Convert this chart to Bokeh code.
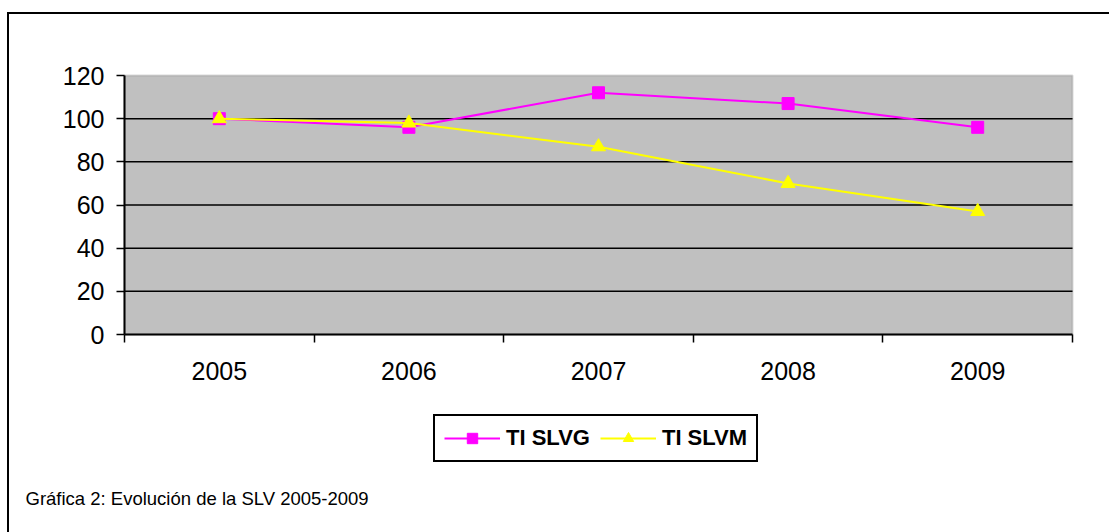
from bokeh.plotting import figure
from bokeh.models import Range1d, FixedTicker, Legend, LegendItem, Label, BoxAnnotation, InlineStyleSheet
from bokeh.embed import file_html
from bokeh.resources import INLINE

# ---- data ----
years = ["2005", "2006", "2007", "2008", "2009"]
ti_slvg = [100, 96, 112, 107, 96]
ti_slvm = [100, 98, 87, 70, 57]
y_ticks = [0, 20, 40, 60, 80, 100, 120]
series_names = ["TI SLVG", "TI SLVM"]
caption = "Gráfica 2: Evolución de la SLV 2005-2009"

FONT = "Liberation Sans"
W, H = 1109, 532
# plot-area placement on the canvas (pixels)
PL, PR, PT, PB = 124, 1072, 75, 334

pos = list(range(1, len(years) + 1))
bounds = [i + 0.5 for i in range(len(years) + 1)]
x_lo, x_hi = bounds[0], bounds[-1]
y_lo, y_hi = y_ticks[0], y_ticks[-1]

# ranges extended so the data area lands on the plot area, frame = whole canvas
kx = (PR - PL) / (x_hi - x_lo)
ky = (PB - PT) / (y_hi - y_lo)
x_range = Range1d(x_lo - PL / kx, x_hi + (W - PR) / kx)
y_range = Range1d(y_lo - (H - PB) / ky, y_hi + PT / ky)

frame_css = InlineStyleSheet(css="""
:host { position: relative; }
:host::after {
  content: "";
  position: absolute;
  left: 7px; top: 12px; right: 0px; bottom: 0px;
  border-left: 2px solid #000;
  border-top: 2px solid #000;
  pointer-events: none;
}
""")

p = figure(width=W, height=H, output_backend="svg", toolbar_location=None,
           x_range=x_range, y_range=y_range, min_border=0,
           background_fill_color="white", border_fill_color="white",
           stylesheets=[frame_css])
p.outline_line_color = None
p.xgrid.visible = False
p.ygrid.visible = False

# grey plot area with grey top/right border
p.add_layout(BoxAnnotation(left=x_lo, right=x_hi, bottom=y_lo, top=y_hi, level="image",
                           fill_color="#C0C0C0", fill_alpha=1,
                           line_color="#808080", line_width=2))

# horizontal gridlines
grid_vals = [t for t in y_ticks if y_lo < t < y_hi]
p.segment(x0=[x_lo] * len(grid_vals), x1=[x_hi] * len(grid_vals), y0=grid_vals, y1=grid_vals,
          line_color="black", line_width=1.5)

# x axis: labels at category centres, tick marks at category boundaries
xa = p.xaxis[0]
xa.fixed_location = y_lo
xa.bounds = (x_lo, x_hi)
xa.ticker = FixedTicker(ticks=pos, minor_ticks=bounds)
xa.major_label_overrides = {x: y for x, y in zip(pos, years)}
xa.axis_line_color = "black"
xa.axis_line_width = 2
xa.major_tick_out = 0
xa.major_tick_in = 0
xa.minor_tick_out = 8
xa.minor_tick_in = 0
xa.minor_tick_line_color = "black"
xa.minor_tick_line_width = 1.5
xa.major_label_text_font = FONT
xa.major_label_text_font_size = "25px"
xa.major_label_text_color = "black"
xa.major_label_standoff = 19

ya = p.yaxis[0]
ya.fixed_location = x_lo
ya.bounds = (y_lo, y_hi)
ya.ticker = FixedTicker(ticks=y_ticks)
ya.axis_line_color = "black"
ya.axis_line_width = 2
ya.major_tick_out = 8
ya.major_tick_in = 0
ya.major_tick_line_color = "black"
ya.major_tick_line_width = 1.5
ya.minor_tick_out = 0
ya.minor_tick_in = 0
ya.major_label_text_font = FONT
ya.major_label_text_font_size = "25px"
ya.major_label_text_color = "black"
ya.major_label_standoff = 12

r1 = p.line(pos, ti_slvg, line_color="#FF00FF", line_width=2)
r1m = p.scatter(pos, ti_slvg, marker="square", size=12, fill_color="#FF00FF", line_color="#FF00FF")
r2 = p.line(pos, ti_slvm, line_color="#FFFF00", line_width=2)
r2m = p.scatter(pos, ti_slvm, marker="triangle", size=14, fill_color="#FFFF00", line_color="#FFFF00")

legend = Legend(items=[LegendItem(label=series_names[0], renderers=[r1, r1m]),
                       LegendItem(label=series_names[1], renderers=[r2, r2m])],
                orientation="horizontal", location=(433, H - 462),
                glyph_width=56, glyph_height=26, label_height=26,
                label_standoff=6, spacing=10, padding=9, margin=0,
                border_line_color="black", border_line_width=2, border_line_alpha=1,
                background_fill_color="white", background_fill_alpha=1,
                label_text_font=FONT, label_text_font_size="22px",
                label_text_font_style="bold", label_text_color="black")
p.add_layout(legend, "center")

p.add_layout(Label(x=25, y=H - 498, x_units="screen", y_units="screen", text=caption,
                   text_font=FONT, text_font_size="18.5px", text_color="black",
                   text_baseline="alphabetic"))

open("out.html", "w").write(file_html(p, INLINE))
